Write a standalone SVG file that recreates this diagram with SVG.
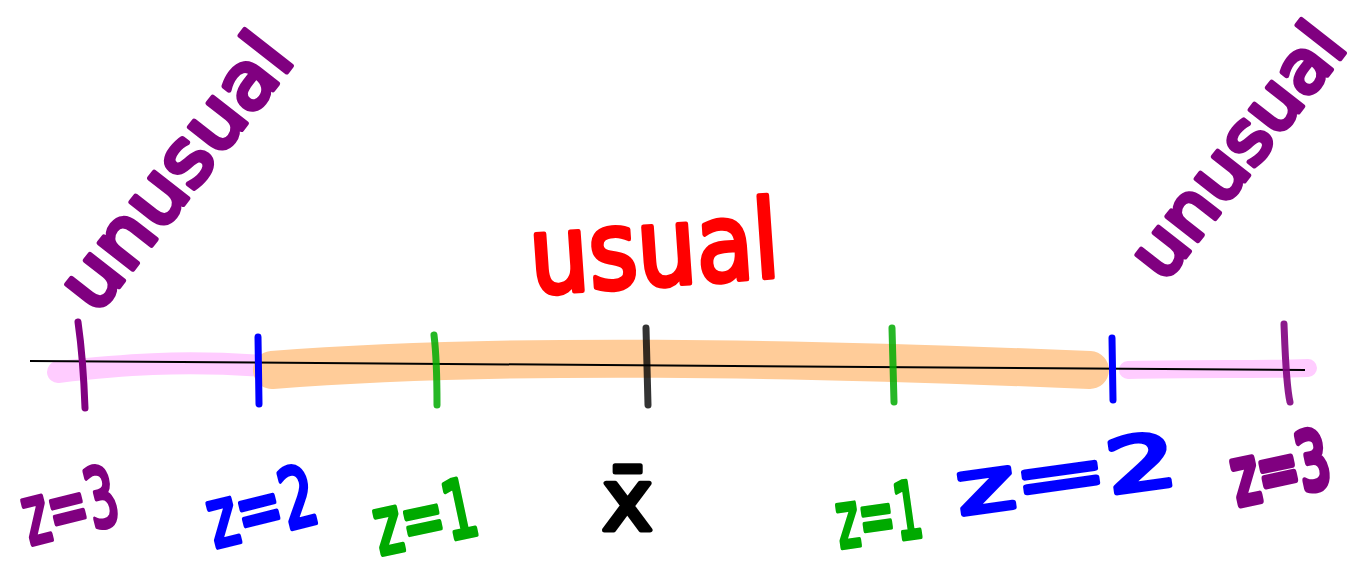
<svg xmlns="http://www.w3.org/2000/svg" width="1362" height="572" viewBox="0 0 1362 572">
<style>
.hl{fill:none;stroke-linecap:round}
.tick{fill:none;stroke-width:7;stroke-linecap:round}
.hw{font-family:"DejaVu Sans",sans-serif;font-weight:normal;stroke-width:5;stroke-linejoin:round;stroke-linecap:round}
.purple{fill:#800080;stroke:#800080}
.blue{fill:#0000ff;stroke:#0000ff}
.green{fill:#00aa00;stroke:#00aa00}
.black{fill:#000;stroke:#000}
.red{fill:#ff0000;stroke:#ff0000}
</style>
<rect width="1362" height="572" fill="#fff"/>
<g id="connectors">
<path class="hl" d="M58 372 C120 365 180 360 262 366" stroke="#ffccff" stroke-width="22"/>
<path class="hl" d="M1128 370 C1200 368 1260 370 1308 368" stroke="#ffccff" stroke-width="18"/>
<path class="hl" d="M272 370 C500 352 800 358 1090 370" stroke="#ffcc99" stroke-width="38"/>
<path d="M30 361 L1305 370" stroke="#000" stroke-width="2" fill="none"/>
<path class="tick" d="M78 322 C82 350 84 380 85 408" stroke="#800080"/>
<path class="tick" d="M258 337 L259 404" stroke="#0000ff"/>
<path class="tick" d="M434 335 C437 360 437 385 437 405" stroke="#00aa00" opacity="0.85"/>
<path class="tick" d="M646 328 L648 405" stroke="#000" opacity="0.8"/>
<path class="tick" d="M892 328 L894 402" stroke="#00aa00" opacity="0.85"/>
<path class="tick" d="M1112 338 L1113 400" stroke="#0000ff"/>
<path class="tick" d="M1284 324 C1285 350 1286 385 1290 402" stroke="#800080" opacity="0.9"/>
</g>
<g id="unusual-left"><text class="hw purple" transform="translate(96 316) rotate(-52)" font-size="78" textLength="325" lengthAdjust="spacingAndGlyphs">unusual</text></g>
<g id="unusual-right"><text class="hw purple" transform="translate(1164 284) rotate(-52)" font-size="72" textLength="300" lengthAdjust="spacingAndGlyphs">unusual</text></g>
<g id="usual"><text class="hw red" transform="translate(532 294) rotate(-4)" font-size="108" textLength="250" lengthAdjust="spacingAndGlyphs">usual</text></g>
<g id="z-3-left"><text class="hw purple" transform="translate(30 545) rotate(-14)" font-size="82" textLength="96" lengthAdjust="spacingAndGlyphs">z=3</text></g>
<g id="z-2-left"><text class="hw blue" transform="translate(215 548) rotate(-14)" font-size="82" textLength="110" lengthAdjust="spacingAndGlyphs">z=2</text></g>
<g id="z-1-left"><text class="hw green" transform="translate(380 555) rotate(-12)" font-size="80" textLength="104" lengthAdjust="spacingAndGlyphs">z=1</text></g>
<g id="xbar"><text class="hw black" x="602" y="530" font-size="86">x̄</text></g>
<g id="z1-right"><text class="hw green" transform="translate(840 548) rotate(-8)" font-size="78" textLength="86" lengthAdjust="spacingAndGlyphs">z=1</text></g>
<g id="z2-right"><text class="hw blue" transform="translate(960 515) rotate(-8)" font-size="74" textLength="222" lengthAdjust="spacingAndGlyphs">z=2</text></g>
<g id="z3-right"><text class="hw purple" transform="translate(1238 505) rotate(-12) scale(1 1.6)" font-size="49" stroke-width="4">z=3</text></g>
</svg>
